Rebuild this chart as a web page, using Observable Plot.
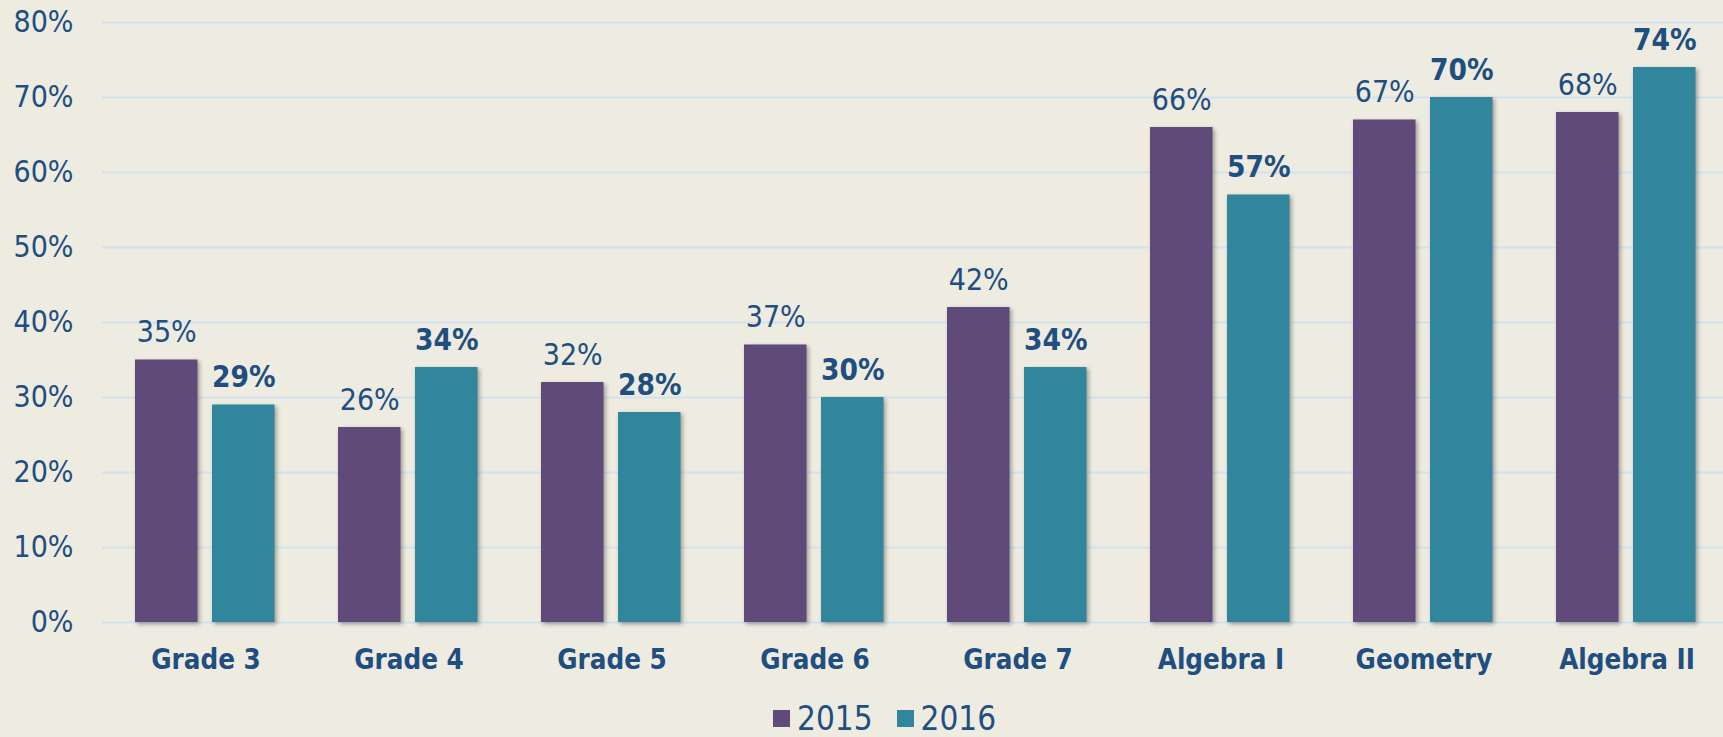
<!DOCTYPE html>
<html>
<head>
<meta charset="utf-8">
<script src="https://cdn.jsdelivr.net/npm/d3@7"></script>
<script src="https://cdn.jsdelivr.net/npm/@observablehq/plot@0.6"></script>
<style>
  html, body { margin: 0; padding: 0; background: #EEEBE0; }
  body { width: 1723px; height: 737px; overflow: hidden; font-family: "DejaVu Sans Condensed", "Liberation Sans", sans-serif; }
  #chart svg { display: block; }
  #chart svg text { font-family: "DejaVu Sans Condensed", "Liberation Sans", sans-serif; }
  [aria-label^="y-axis"] text { font-size: 30px; fill: #1F4E80; }
  [aria-label^="x-axis"] text { font-size: 27.5px; font-weight: bold; fill: #1F4E80; }
  [aria-label="bar"] { filter: drop-shadow(2px 2px 2px rgba(0,0,0,0.35)); }
  #legend { display: flex; align-items: center; margin-left: 773px; height: 37px; line-height: 30px; color: #1F4E80; font-size: 33px; }
  #legend .sw { width: 17px; height: 17px; margin-right: 7px; }
  #legend .item { display: flex; align-items: center; margin-right: 24px; }
</style>
</head>
<body>
<div id="chart"></div>
<div id="legend"></div>
<script>
const categories = ["Grade 3", "Grade 4", "Grade 5", "Grade 6", "Grade 7", "Algebra I", "Geometry", "Algebra II"];
const years = ["2015", "2016"];
const values2015 = [35, 26, 32, 37, 42, 66, 67, 68];
const values2016 = [29, 34, 28, 30, 34, 57, 70, 74];
const yTicks = [0, 10, 20, 30, 40, 50, 60, 70, 80];
const colors = ["#5F4A7A", "#31869E"];
const textColor = "#1F4E80";

const rows2015 = categories.map((c, i) => ({cat: c, year: years[0], value: values2015[i]}));
const rows2016 = categories.map((c, i) => ({cat: c, year: years[1], value: values2016[i]}));

const chart = Plot.plot({
  width: 1723,
  height: 700,
  marginTop: 22,
  marginBottom: 78,
  marginLeft: 102,
  marginRight: 0,
  style: {background: "#EEEBE0", overflow: "visible"},
  x: {domain: categories, range: [102, 1730], padding: 0, tickSize: 0, tickPadding: 27, label: null},
  y: {domain: [0, 80], range: [622, 22], ticks: yTicks, tickSize: 0, tickPadding: 29, tickFormat: d => d + "%", label: null},
  color: {domain: years, range: colors},
  marks: [
    Plot.ruleY(yTicks, {stroke: "#D3E1EE", strokeWidth: 2}),
    Plot.barY(rows2015, {x: "cat", y: "value", fill: "year", insetLeft: 31, insetRight: 109.5}),
    Plot.barY(rows2016, {x: "cat", y: "value", fill: "year", insetLeft: 108, insetRight: 32.5}),
    Plot.text(rows2015, {x: "cat", y: "value", text: d => d.value + "%", dx: -39.25, dy: -18, lineAnchor: "bottom", fontSize: 30, fill: textColor}),
    Plot.text(rows2016, {x: "cat", y: "value", text: d => d.value + "%", dx: 37.75, dy: -18, lineAnchor: "bottom", fontSize: 29.5, fontWeight: "bold", fill: textColor})
  ]
});
document.getElementById("chart").appendChild(chart);

const legend = document.getElementById("legend");
years.forEach((y, i) => {
  const item = document.createElement("div");
  item.className = "item";
  const sw = document.createElement("div");
  sw.className = "sw";
  sw.style.background = colors[i];
  const t = document.createElement("span");
  t.textContent = y;
  item.appendChild(sw);
  item.appendChild(t);
  legend.appendChild(item);
});
</script>
</body>
</html>
